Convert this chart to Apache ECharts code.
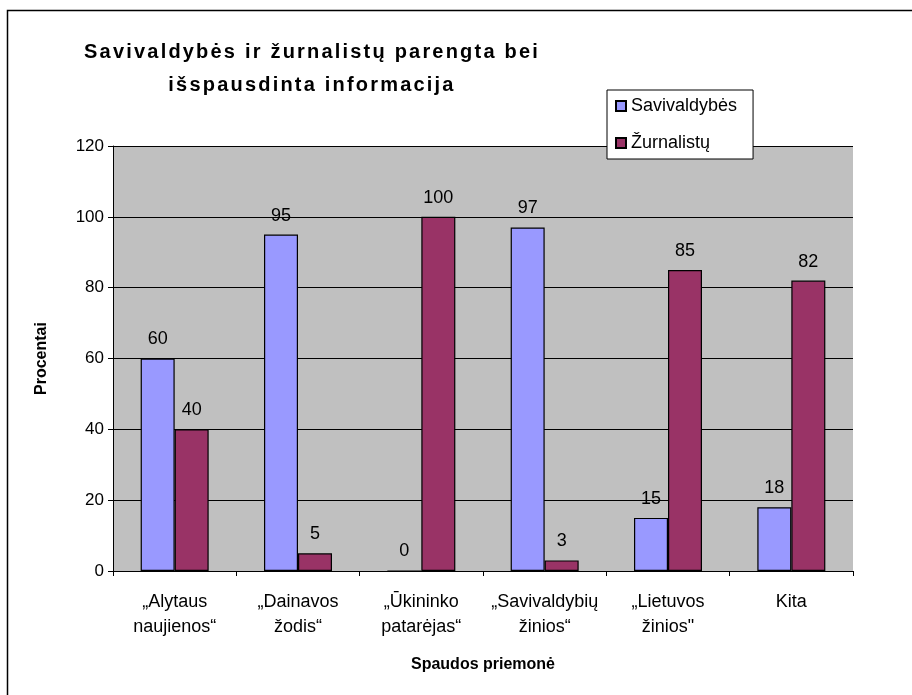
<!DOCTYPE html>
<html><head><meta charset="utf-8">
<script src="https://cdn.jsdelivr.net/npm/echarts@6/dist/echarts.min.js"></script>
<style>html,body{margin:0;padding:0;background:#fff}#c{width:912px;height:695px}</style>
</head><body><div id="c"></div>
<script>
const categories = ['„Alytaus\nnaujienos“', '„Dainavos\nžodis“', '„Ūkininko\npatarėjas“', '„Savivaldybių\nžinios“', '„Lietuvos\nžinios"', 'Kita'];
const savivaldybes = [60, 95, 0, 97, 15, 18];
const zurnalistu = [40, 5, 100, 3, 85, 82];
const yTicks = [0, 20, 40, 60, 80, 100, 120];
const titleLines = ['Savivaldybės ir žurnalistų parengta bei', 'išspausdinta informacija'];

// the original title is drawn with wide letter spacing
(function () {
  const P = CanvasRenderingContext2D.prototype;
  const orig = P.fillText;
  P.fillText = function (txt, x, y, w) {
    if (titleLines.includes(String(txt).trim()) && 'letterSpacing' in this) {
      const prev = this.letterSpacing;
      this.letterSpacing = '2.2px';
      orig.call(this, txt, x, y, w);
      this.letterSpacing = prev;
      return;
    }
    return orig.call(this, txt, x, y, w);
  };
})();

const F = 'Arial, "Liberation Sans", sans-serif';
const chart = echarts.init(document.getElementById('c'));
const lbl = {show: true, position: 'top', distance: 10, color: '#000', fontFamily: F, fontSize: 18};
chart.setOption({
  animation: false,
  backgroundColor: '#fff',
  title: {
    text: titleLines.join('\n'),
    left: 307, top: 31, textAlign: 'center',
    textStyle: {fontFamily: F, fontSize: 20, fontWeight: 'bold', color: '#000', lineHeight: 33}
  },
  legend: {
    orient: 'vertical', left: 607, top: 90,
    itemWidth: 10, itemHeight: 10, itemGap: 19, itemTextGap: 8,
    padding: [7, 16, 7, 8],
    backgroundColor: '#fff', borderColor: '#000', borderWidth: 1,
    textStyle: {fontFamily: F, fontSize: 18, color: '#000'},
    icon: 'rect'
  },
  graphic: [{type: 'rect', shape: {x: 7.5, y: 10.5, width: 1000, height: 1000}, style: {fill: 'none', stroke: '#000', lineWidth: 1.5}, z: -1}],
  grid: {left: 113, right: 59, top: 146, bottom: 124, show: true, backgroundColor: '#c0c0c0', borderWidth: 0},
  xAxis: {
    type: 'category', data: categories,
    axisLine: {lineStyle: {color: '#000'}},
    axisTick: {show: true, alignWithLabel: false, length: 5, lineStyle: {color: '#000'}},
    axisLabel: {interval: 0, color: '#000', fontFamily: F, fontSize: 18, margin: 19, lineHeight: 25},
    name: 'Spaudos priemonė', nameLocation: 'middle', nameGap: 86,
    nameTextStyle: {fontFamily: F, fontSize: 16, fontWeight: 'bold', color: '#000'}
  },
  yAxis: {
    type: 'value', min: yTicks[0], max: yTicks[yTicks.length - 1], interval: 20,
    axisLine: {show: true, lineStyle: {color: '#000'}},
    axisTick: {show: true, length: 5, lineStyle: {color: '#000'}},
    axisLabel: {color: '#000', fontFamily: F, fontSize: 17, margin: 9},
    splitLine: {lineStyle: {color: '#000', width: 1}},
    name: 'Procentai', nameLocation: 'middle', nameGap: 63, nameRotate: 90,
    nameTextStyle: {fontFamily: F, fontSize: 16, fontWeight: 'bold', color: '#000'}
  },
  series: [
    {name: 'Savivaldybės', type: 'bar', data: savivaldybes, barWidth: 34, barGap: '0%',
     itemStyle: {color: '#9999ff', borderColor: '#000', borderWidth: 1.2}, label: lbl},
    {name: 'Žurnalistų', type: 'bar', data: zurnalistu, barWidth: 34, barGap: '0%',
     itemStyle: {color: '#993366', borderColor: '#000', borderWidth: 1.2}, label: lbl}
  ]
});
</script></body></html>
